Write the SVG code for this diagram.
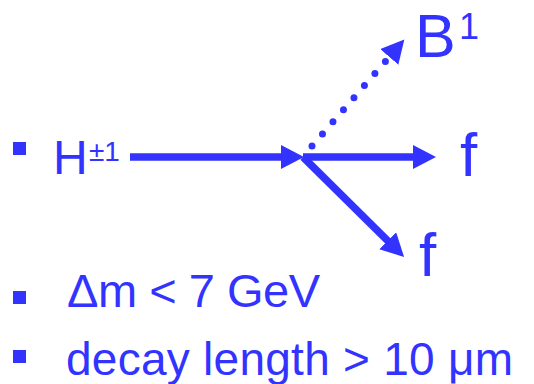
<svg xmlns="http://www.w3.org/2000/svg" width="534" height="384" viewBox="0 0 534 384">
<style>
  .t { font-family: "Liberation Sans", Arial, sans-serif; fill: #3333ff; }
  .ln { stroke: #3333ff; stroke-width: 7.5; fill: none; marker-end: url(#ah); }
  .dot { stroke: #3333ff; stroke-width: 7; fill: none; stroke-linecap: round; stroke-dasharray: 0 16; marker-end: url(#ah); }
  .bul { fill: #3333ff; }
</style>
<defs>
  <marker id="ah" markerUnits="userSpaceOnUse" markerWidth="24" markerHeight="26" viewBox="0 0 24 26" refX="8" refY="12" orient="auto">
    <path d="M0,0 L23,12 L0,24 z" fill="#3333ff"/>
  </marker>
</defs>
<rect width="534" height="384" fill="#ffffff"/>
<g id="bullets">
  <rect class="bul" x="13" y="142" width="13" height="13"/>
  <rect class="bul" x="13" y="291" width="13" height="13"/>
  <rect class="bul" x="13" y="350" width="13" height="13"/>
</g>
<g id="node-H">
  <text class="t" x="53" y="174" font-size="48">H</text>
  <text class="t" x="89" y="161" font-size="28">±1</text>
</g>
<g id="node-B">
  <text class="t" x="415" y="57" font-size="61">B</text>
  <text class="t" x="459" y="39" font-size="36">1</text>
</g>
<g id="node-f1">
  <text class="t" x="460" y="176" font-size="62">f</text>
</g>
<g id="node-f2">
  <text class="t" x="419" y="276" font-size="62">f</text>
</g>
<g id="connectors">
  <line class="ln" x1="130" y1="157" x2="289" y2="157"/>
  <line class="ln" x1="303" y1="157" x2="421" y2="157"/>
  <line class="ln" x1="303" y1="157" x2="393.4" y2="246.4"/>
  <line class="dot" x1="312" y1="146" x2="394.5" y2="50.9"/>
</g>
<g id="notes">
  <text class="t" x="67" y="307" font-size="47" textLength="253" lengthAdjust="spacing">Δm &lt; 7 GeV</text>
  <text class="t" x="66" y="375" font-size="46" textLength="447" lengthAdjust="spacing">decay length &gt; 10 μm</text>
</g>
</svg>
